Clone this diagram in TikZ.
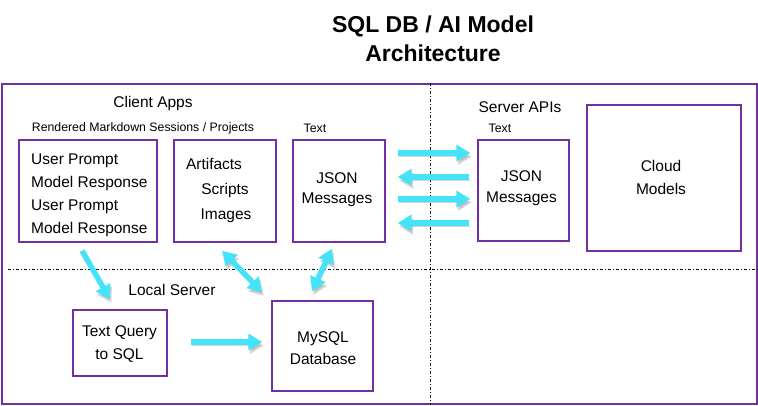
\documentclass[tikz,border=0pt]{standalone}
\usepackage{fontspec}
\setmainfont{Liberation Sans}
\usetikzlibrary{arrows.meta,calc}
\definecolor{frameviolet}{HTML}{7030A0}
\definecolor{flowcyan}{HTML}{45E3F7}
\tikzset{
  box/.style={draw=frameviolet, line width=1.4pt, inner sep=0pt, fill=white},
  txt/.style={inner sep=0pt, font=\fontsize{15.5}{23}\selectfont},
  small/.style={inner sep=0pt, font=\fontsize{12.3}{14}\selectfont},
  divider/.style={line width=0.8pt, dash pattern=on 3pt off 2pt on 1pt off 2pt},
  flowbase/.style={line width=5.5pt, draw=flowcyan,
    preaction={draw=black!45, opacity=0.35, transform canvas={shift={(1.5pt,-3.5pt)}}}},
  flow/.style={flowbase, -{Triangle[length=14pt,width=16pt]}},
  flowboth/.style={flowbase, {Triangle[length=14pt,width=16pt]}-{Triangle[length=14pt,width=16pt]}},
}
\begin{document}
\begin{tikzpicture}[x=1pt,y=-1pt]
\useasboundingbox (0,0) rectangle (758,405);
\fill[white] (0,0) rectangle (758,405);

% title
\node[inner sep=0pt, align=center, font=\bfseries\fontsize{23}{29}\selectfont] (title) at (433,38.5) {SQL DB / AI Model\\Architecture};

% frame and dividers
\node[draw=frameviolet, line width=1.4pt, inner sep=0pt, minimum width=755pt, minimum height=320pt] (frame) at (379.5,244) {};
\draw[divider] (frame.north -| 430,0) -- (frame.south -| 430,0);
\draw[divider] (8,269) -- (frame.east |- 0,269);

% boxes
\node[box, minimum width=138pt, minimum height=102pt] (b1) at (88,191) {};
\node[box, minimum width=102pt, minimum height=102pt] (b2) at (225,191) {};
\node[box, minimum width=92pt, minimum height=102pt] (b3) at (339,191) {};
\node[box, minimum width=91pt, minimum height=101pt] (b4) at (523.5,190.5) {};
\node[box, minimum width=154pt, minimum height=146pt] (b5) at (664,178) {};
\node[box, minimum width=94pt, minimum height=66pt] (b6) at (120,343) {};
\node[box, minimum width=101pt, minimum height=90pt] (b7) at (322.5,346) {};

% section labels
\node[txt] (lclient) at (153,103) {Client Apps};
\node[small] (lrender) at (143,128) {Rendered Markdown Sessions / Projects};
\node[small] (ltext1) at (315,128) {Text};
\node[txt] (lserver) at (520,107) {Server APIs};
\node[small] (ltext2) at (500,128) {Text};
\node[txt] (llocal) at (172,290) {Local Server};

% box texts
\node[txt, align=left, anchor=west] (t1) at (31,195.5) {User Prompt\\Model Response\\User Prompt\\Model Response};
\node[txt] (t2a) at (214,164) {Artifacts};
\node[txt] (t2b) at (225,190) {Scripts};
\node[txt] (t2c) at (226,216) {Images};
\node[txt, align=center, font=\fontsize{15.5}{20.5}\selectfont] (t3) at (337,189.5) {JSON\\Messages};
\node[txt, align=center, font=\fontsize{15.5}{21}\selectfont] (t4) at (521.5,188.5) {JSON\\Messages};
\node[txt, align=center] (t5) at (661,177.5) {Cloud\\Models};
\node[txt, align=center] (t6) at (119.5,344.5) {Text Query\\to SQL};
\node[txt, align=center, font=\fontsize{15.5}{22}\selectfont] (t7) at (323,348) {MySQL\\Database};

% arrows between client and server JSON
\draw[flow, shorten <=12pt, shorten >=7pt] (b3.east |- 0,153) -- (b4.west |- 0,153);
\draw[flow, shorten <=8pt, shorten >=12pt] (b4.west |- 0,177) -- (b3.east |- 0,177);
\draw[flow, shorten <=12pt, shorten >=7pt] (b3.east |- 0,199) -- (b4.west |- 0,199);
\draw[flow, shorten <=8pt, shorten >=12pt] (b4.west |- 0,223) -- (b3.east |- 0,223);

% local arrows
\draw[flow] ($(b1.south)+(-6,8)$) -- ($(b6.north)+(-10,-10)$);
\draw[flowboth] ($(b2.south)+(-3,8)$) -- ($(b7.north west)+(-9,-8)$);
\draw[flowboth] ($(b3.south)+(-7,6)$) -- ($(b7.north)+(-10.5,-9)$);
\draw[flow, shorten <=23pt, shorten >=9pt] (b6.east |- 0,342) -- (b7.west |- 0,342);
\end{tikzpicture}
\end{document}
